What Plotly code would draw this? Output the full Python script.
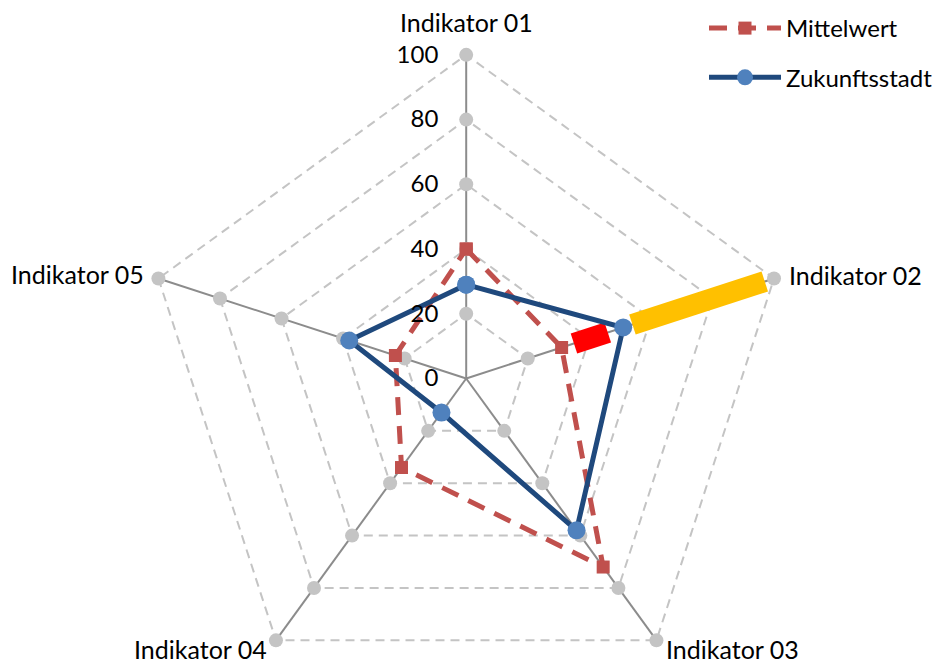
import plotly.graph_objects as go

# Indicator axes
categories = ["Indikator 01", "Indikator 02", "Indikator 03", "Indikator 04", "Indikator 05"]

# Series values (0-100 scale)
mittelwert = [40, 31, 72, 34, 23]
zukunftsstadt = [29, 51, 58, 13, 38]

# Radial scale ticks
radial_ticks = [0, 20, 40, 60, 80, 100]

# Highlight ranges along Indikator 02: (start, end)
yellow_range = [54, 97]
red_range = [35, 46]

FONT = "Lato"
W, H = 938, 757
R_MAX = 101
cx, r_px = 466.7, 324 * R_MAX / 100

fig = go.Figure()

# grey dots where the grid rings meet the axes
dot_r, dot_t = [], []
for c in categories:
    for v in radial_ticks[1:]:
        dot_r.append(v)
        dot_t.append(c)
fig.add_trace(go.Scatterpolar(
    r=dot_r, theta=dot_t, mode="markers",
    marker=dict(size=14, color="#c4c4c4"),
    showlegend=False, hoverinfo="skip",
))

# highlight bars on Indikator 02
fig.add_trace(go.Scatterpolar(
    r=yellow_range, theta=[categories[1]] * 2, mode="lines",
    line=dict(color="#ffc000", width=21),
    showlegend=False, hoverinfo="skip",
))
fig.add_trace(go.Scatterpolar(
    r=red_range, theta=[categories[1]] * 2, mode="lines",
    line=dict(color="#ff0000", width=21),
    showlegend=False, hoverinfo="skip",
))

fig.add_trace(go.Scatterpolar(
    r=mittelwert + mittelwert[:1], theta=categories + categories[:1],
    mode="lines+markers", name="Mittelwert",
    line=dict(color="#c0504d", width=5, dash="18px,11px"),
    marker=dict(symbol="square", size=13, color="#c0504d"),
    legendgroup="m",
))
fig.add_trace(go.Scatterpolar(
    r=zukunftsstadt + zukunftsstadt[:1], theta=categories + categories[:1],
    mode="lines+markers", name="Zukunftsstadt",
    line=dict(color="#1f497d", width=5),
    marker=dict(symbol="circle", size=18, color="#4f81bd"),
    legendgroup="z",
))

# axis names placed around the outer ring (pixel positions, anchors)
label_pos = [
    (467, 22, "center"),
    (788, 275, "left"),
    (665, 649, "left"),
    (269, 649, "right"),
    (146, 274, "right"),
]
annotations = []
for name, (px, py, anchor) in zip(categories, label_pos):
    annotations.append(dict(
        text=name, x=px / W, y=1 - py / H, xref="paper", yref="paper",
        xanchor=anchor, yanchor="middle", showarrow=False,
        font=dict(family=FONT, size=25, color="#000000"),
    ))

fig.update_layout(
    width=W, height=H,
    margin=dict(l=0, r=0, t=0, b=0),
    paper_bgcolor="white",
    font=dict(family=FONT, size=24, color="#000000"),
    annotations=annotations,
    polar=dict(
        domain=dict(x=[(cx - r_px) / W, (cx + r_px) / W], y=[0, 1]),
        bgcolor="white",
        gridshape="linear",
        radialaxis=dict(
            range=[0, R_MAX], tickvals=radial_ticks, angle=90, tickangle=90,
            side="counterclockwise", showline=False,
            ticks="outside", ticklen=19, tickcolor="rgba(0,0,0,0)",
            tickfont=dict(family=FONT, size=24, color="#000000"),
            showgrid=True, gridcolor="#c4c4c4", gridwidth=2, griddash="9px,6px",
        ),
        angularaxis=dict(
            type="category", categoryorder="array", categoryarray=categories,
            rotation=90, direction="clockwise",
            showline=False, ticks="", showticklabels=False,
            showgrid=True, gridcolor="#8c8c8c", gridwidth=2,
        ),
    ),
    legend=dict(
        x=705 / W, y=1 - 6 / H, xanchor="left", yanchor="top",
        itemwidth=72, tracegroupgap=15, traceorder="grouped",
        font=dict(family=FONT, size=24, color="#000000"),
        bgcolor="rgba(0,0,0,0)",
    ),
)

fig.write_html("out.html")
